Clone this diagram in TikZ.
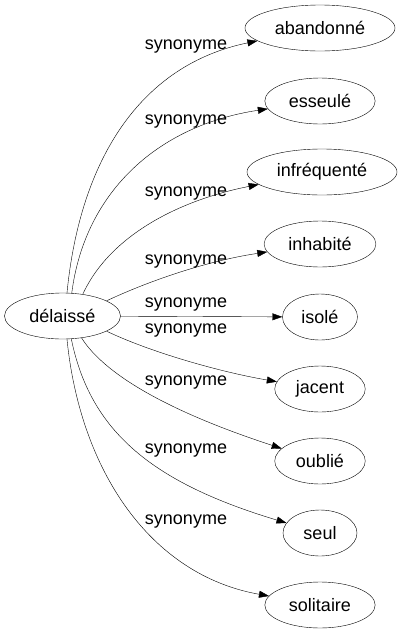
\documentclass[tikz,border=0pt]{standalone}
\usepackage{fontspec}
\setmainfont{Liberation Sans}
\usetikzlibrary{arrows.meta, shapes.geometric}

\begin{document}
\begin{tikzpicture}[x=1pt, y=-1pt, font=\fontsize{18}{20}\selectfont,
    word/.style={draw, ellipse, inner xsep=8pt, inner ysep=2pt, minimum width=74pt, minimum height=46pt},
    rel/.style={-{Triangle[length=10pt, width=7pt]}},
    lbl/.style={inner sep=0pt}]
  \useasboundingbox (0,0) rectangle (400,635);

  \node[word] (dela)   at (62.5,316) {délaissé};
  \node[word] (aband)  at (320,28)  {abandonné};
  \node[word] (esseu)  at (320,101) {esseulé};
  \node[word] (infreq) at (322,172) {infréquenté};
  \node[word] (inhab)  at (320,244) {inhabité};
  \node[word] (isole)  at (320,317) {isolé};
  \node[word] (jacent) at (320,389) {jacent};
  \node[word] (oublie) at (320,461) {oublié};
  \node[word] (seul)   at (320,533) {seul};
  \node[word] (solit)  at (320,605) {solitaire};

  % edges, top to bottom
  \draw[rel] (dela.79)  .. controls (80,160)  and (140,65)  .. (aband);
  \draw[rel] (dela.68)  .. controls (85,190)  and (160,125) .. (esseu);
  \draw[rel] (dela.47)  .. controls (110,235) and (180,200) .. (infreq);
  \draw[rel] (dela.19)  .. controls (140,285) and (200,262) .. (inhab);
  \draw[rel] (dela) -- (isole);
  \draw[rel] (dela.-19) .. controls (150,352) and (220,372) .. (jacent);
  \draw[rel] (dela.-49) .. controls (105,375) and (170,412) .. (oublie);
  \draw[rel] (dela.-69) .. controls (90,430)  and (150,482) .. (seul);
  \draw[rel] (dela.-79) .. controls (80,470)  and (150,575) .. (solit);

  \node[lbl] (l1) at (186,47)  {synonyme};
  \node[lbl] (l2) at (186,122) {synonyme};
  \node[lbl] (l3) at (186,194) {synonyme};
  \node[lbl] (l4) at (186,262) {synonyme};
  \node[lbl] (l5) at (186,305) {synonyme};
  \node[lbl] (l6) at (186,331) {synonyme};
  \node[lbl] (l7) at (186,383) {synonyme};
  \node[lbl] (l8) at (186,451) {synonyme};
  \node[lbl] (l9) at (186,522) {synonyme};
\end{tikzpicture}
\end{document}
